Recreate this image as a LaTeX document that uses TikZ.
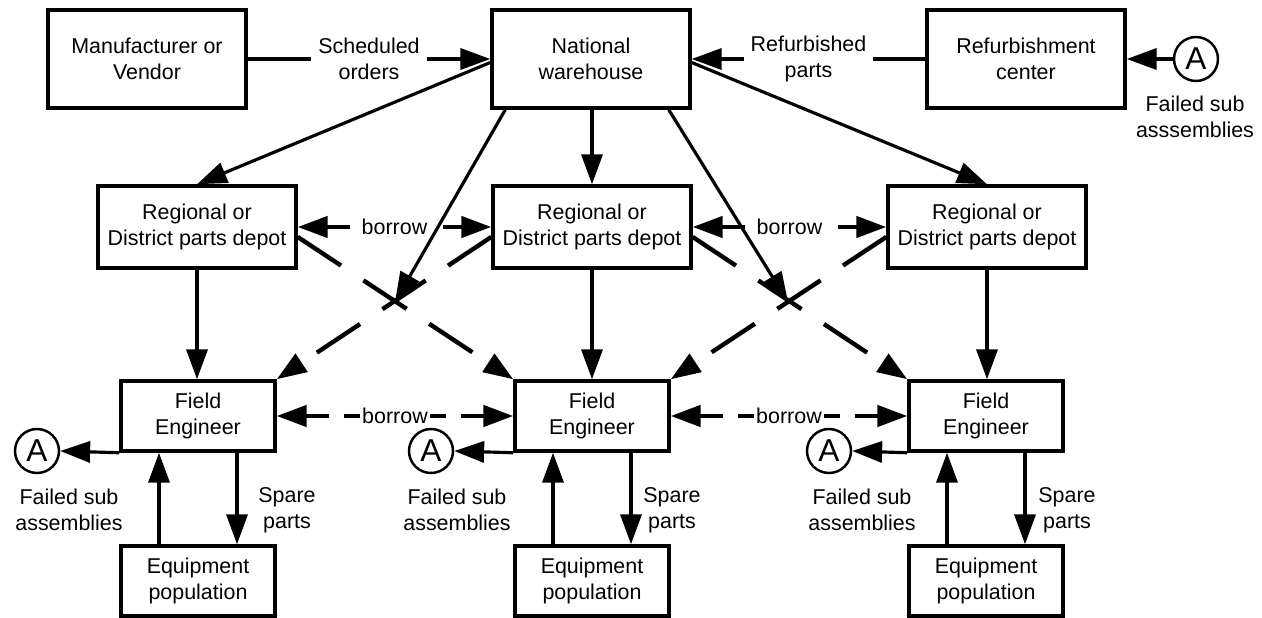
\documentclass[tikz,border=0pt]{standalone}
\usepackage{fontspec}
\setmainfont{Liberation Sans}
\usetikzlibrary{arrows.meta,calc}
\begin{document}
\begin{tikzpicture}[x=0.02cm,y=-0.02cm,
  font=\fontsize{12.2}{14.6}\selectfont,
  box/.style={draw,line width=2pt,align=center,inner sep=0pt},
  big/.style={box,minimum width=3.96cm,minimum height=1.96cm},
  reg/.style={box,minimum width=3.96cm,minimum height=1.64cm},
  small/.style={box,minimum width=3.08cm,minimum height=1.4cm},
  circ/.style={draw,circle,line width=1.4pt,minimum size=0.88cm,inner sep=0pt,font=\fontsize{18}{18}\selectfont},
  lbl/.style={align=center,inner sep=0pt},
  gap/.style={fill=white,align=center,inner xsep=1pt,inner ysep=1pt},
  arr/.style={line width=1.8pt,-{Triangle[length=17pt,width=12pt]}},
  darr/.style={line width=2.4pt,dash pattern=on 13.6pt off 8.5pt,{Triangle[length=17pt,width=12pt]}-{Triangle[length=17pt,width=12pt]}},
  diag/.style={line width=2.5pt,dash pattern=on 29.5pt off 15.3pt,-{Triangle[length=17pt,width=12pt]}},
]
\path[use as bounding box] (0,0) rectangle (1262,618);

% top row
\node[big] (mfr) at (147,59) {Manufacturer or\\Vendor};
\node[big] (nw) at (591,59) {National\\warehouse};
\node[big] (ref) at (1026,59) {Refurbishment\\center};
\node[circ] (a0) at (1196,59) {A};
\node[lbl] (f0) at (1195,117) {Failed sub\\asssemblies};

% regional row
\node[reg] (r1) at (197,227) {Regional or\\District parts depot};
\node[reg] (r2) at (592,227) {Regional or\\District parts depot};
\node[reg] (r3) at (987,227) {Regional or\\District parts depot};

% field engineers
\node[small] (fe1) at (198,416) {Field\\Engineer};
\node[small] (fe2) at (592,416) {Field\\Engineer};
\node[small] (fe3) at (986,416) {Field\\Engineer};

% equipment
\node[small] (eq1) at (198,581) {Equipment\\population};
\node[small] (eq2) at (592,581) {Equipment\\population};
\node[small] (eq3) at (986,581) {Equipment\\population};

% A circles and labels
\node[circ] (a1) at (37,451) {A};
\node[circ] (a2) at (431,451) {A};
\node[circ] (a3) at (829,451) {A};
\node[lbl] (fl1) at (69,510) {Failed sub\\assemblies};
\node[lbl] (fl2) at (457,510) {Failed sub\\assemblies};
\node[lbl] (fl3) at (862,510) {Failed sub\\assemblies};
\node[lbl] (sp1) at (287,510) {Spare\\parts};
\node[lbl] (sp2) at (672,510) {Spare\\parts};
\node[lbl] (sp3) at (1067,510) {Spare\\parts};

% crossing points
\coordinate (x1) at (395,302);
\coordinate (x2) at (788,302);

% top arrows
\draw[arr] (mfr) -- node[gap,inner xsep=4pt]{Scheduled\\orders} (nw);
\draw[arr] (ref) -- node[gap,inner xsep=4pt]{Refurbished\\parts} (nw);
\draw[arr] (a0) -- (ref);

% national warehouse to regionals
\draw[arr] ([yshift=-2pt]nw.west) -- (r1.north);
\draw[arr] ([yshift=-2pt]nw.east) -- (r3.north);
\draw[arr] (nw.south -| r2.north) -- (r2.north);
\draw[arr] ($(nw.south west)+(15,0)$) -- (x1);
\draw[arr] ($(nw.south east)+(-23,0)$) -- (x2);

% regional borrow
\draw[darr] (r1.east) -- node[gap]{borrow} (r2.west);
\draw[darr] (r2.east) -- node[gap]{borrow} (r3.west);

% regionals to field engineers
\draw[arr] (r1.south) -- (r1.south |- fe1.north);
\draw[arr] (r2.south) -- (r2.south |- fe2.north);
\draw[arr] (r3.south) -- (r3.south |- fe3.north);

% dashed diagonals
\draw[diag] ($(r1.east)+(0,10)$) -- (fe2.north west);
\draw[diag] ($(r2.west)+(0,10)$) -- (fe1.north east);
\draw[diag] ($(r2.east)+(0,10)$) -- (fe3.north west);
\draw[diag] ($(r3.west)+(0,10)$) -- (fe2.north east);

% field engineer borrow
\draw[darr] (fe1.east) -- node[gap]{borrow} (fe2.west);
\draw[darr] (fe2.east) -- node[gap]{borrow} (fe3.west);

% failed sub assemblies
\draw[arr] (fe1.south west) -- (a1.east);
\draw[arr] (fe2.south west) -- (a2.east);
\draw[arr] (fe3.south west) -- (a3.east);

% equipment <-> field engineer
\draw[arr] ($(eq1.north)+(-39,0)$) -- ($(fe1.south)+(-39,0)$);
\draw[arr] ($(fe1.south)+(39,0)$) -- ($(eq1.north)+(39,0)$);
\draw[arr] ($(eq2.north)+(-39,0)$) -- ($(fe2.south)+(-39,0)$);
\draw[arr] ($(fe2.south)+(39,0)$) -- ($(eq2.north)+(39,0)$);
\draw[arr] ($(eq3.north)+(-39,0)$) -- ($(fe3.south)+(-39,0)$);
\draw[arr] ($(fe3.south)+(39,0)$) -- ($(eq3.north)+(39,0)$);
\end{tikzpicture}
\end{document}
